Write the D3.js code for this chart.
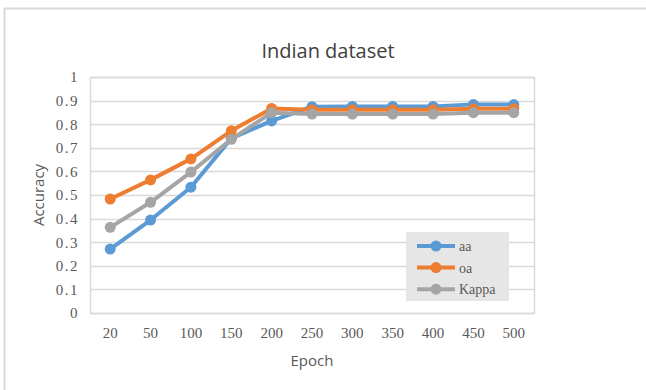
<!DOCTYPE html>
<html>
<head>
<meta charset="utf-8">
<script src="https://cdn.jsdelivr.net/npm/d3@7"></script>
<style>
    body { margin: 0; background: #fff; }
    .tick-label { font-family: "Liberation Serif", "DejaVu Serif", serif; font-size: 15px; fill: #595959; }
    .axis-title { font-family: "Open Sans", sans-serif; font-size: 15px; fill: #595959; }
</style>
</head>
<body>
<svg id="chart" width="646" height="390"></svg>
<script>
// data
const epochs = ["20", "50", "100", "150", "200", "250", "300", "350", "400", "450", "500"];
const aa = [0.271, 0.394, 0.533, 0.740, 0.814, 0.874, 0.875, 0.875, 0.875, 0.884, 0.883];
const oa = [0.483, 0.564, 0.653, 0.772, 0.867, 0.861, 0.861, 0.861, 0.861, 0.865, 0.865];
const kappa = [0.363, 0.469, 0.597, 0.736, 0.849, 0.843, 0.843, 0.843, 0.843, 0.849, 0.849];
const yTicks = [0, 0.1, 0.2, 0.3, 0.4, 0.5, 0.6, 0.7, 0.8, 0.9, 1];

const series = [
    { name: "aa", values: aa, color: "#5B9BD5" },
    { name: "oa", values: oa, color: "#ED7D31" },
    { name: "Kappa", values: kappa, color: "#A5A5A5" },
];

const svg = d3.select("#chart");
const margin = { left: 90, right: 112, top: 77, bottom: 77 };
const width = 646 - margin.left - margin.right;
const height = 390 - margin.top - margin.bottom;

// outer chart border (runs off the right/bottom edge)
svg.append("rect")
    .attr("x", 4.5).attr("y", 8.5)
    .attr("width", 660).attr("height", 400)
    .attr("fill", "#fff")
    .attr("stroke", "#d9d9d9")
    .attr("stroke-width", 2);

const x = d3.scaleBand().domain(epochs).range([0, width]);
const y = d3.scaleLinear().domain([0, 1]).range([height, 0]);

const g = svg.append("g").attr("transform", `translate(${margin.left},${margin.top})`);

// grid lines
g.selectAll(".grid")
    .data(yTicks)
    .enter()
    .append("line")
    .attr("class", "grid")
    .attr("x1", 0).attr("x2", width)
    .attr("y1", d => Math.round(y(d)) + 0.5)
    .attr("y2", d => Math.round(y(d)) + 0.5)
    .attr("stroke", "#d9d9d9")
    .attr("stroke-width", 1.5);

// plot area border
g.append("rect")
    .attr("x", 0.5).attr("y", 0.5)
    .attr("width", width).attr("height", height)
    .attr("fill", "none")
    .attr("stroke", "#d9d9d9")
    .attr("stroke-width", 1.5);

// y axis labels
const yAxis = d3.axisLeft(y)
    .tickValues(yTicks)
    .tickSize(0)
    .tickPadding(11)
    .tickFormat(d => (d === 0 || d === 1) ? String(d) : d.toFixed(1));
g.append("g").call(yAxis)
    .call(a => a.select(".domain").remove())
    .selectAll("text")
    .attr("class", "tick-label")
    .attr("fill", null)
    .attr("font-size", null)
    .attr("font-family", null)
    .style("letter-spacing", "1.5px");

// x axis labels
const xAxis = d3.axisBottom(x).tickSize(0).tickPadding(14);
g.append("g").attr("transform", `translate(0,${height})`).call(xAxis)
    .call(a => a.select(".domain").remove())
    .selectAll("text")
    .attr("class", "tick-label")
    .attr("fill", null)
    .attr("font-size", null)
    .attr("font-family", null);

const cx = d => x(d) + x.bandwidth() / 2;
const line = d3.line()
    .x((d, i) => cx(epochs[i]))
    .y(d => y(d));

// lines + markers, drawn in series order
series.forEach(s => {
    g.append("path")
        .datum(s.values)
        .attr("fill", "none")
        .attr("stroke", s.color)
        .attr("stroke-width", 4)
        .attr("stroke-linejoin", "round")
        .attr("d", line);

    g.selectAll(".dot-" + s.name)
        .data(s.values)
        .enter()
        .append("circle")
        .attr("class", "dot-" + s.name)
        .attr("cx", (d, i) => cx(epochs[i]))
        .attr("cy", d => y(d))
        .attr("r", 5.5)
        .attr("fill", s.color);
});

// title
svg.append("text")
    .attr("x", 328).attr("y", 58)
    .attr("text-anchor", "middle")
    .style("font-family", "'Open Sans', sans-serif")
    .style("font-size", "20px")
    .style("fill", "#404040")
    .text("Indian dataset");

// axis titles
svg.append("text")
    .attr("class", "axis-title")
    .attr("x", margin.left + width / 2).attr("y", 366)
    .attr("text-anchor", "middle")
    .text("Epoch");

svg.append("text")
    .attr("class", "axis-title")
    .attr("transform", `translate(44,${margin.top + height / 2}) rotate(-90)`)
    .attr("text-anchor", "middle")
    .text("Accuracy");

// legend
const legend = svg.append("g").attr("transform", "translate(406,232)");
legend.append("rect")
    .attr("width", 103).attr("height", 69)
    .attr("fill", "#e7e6e6");

const item = legend.selectAll(".item")
    .data(series)
    .enter()
    .append("g")
    .attr("class", "item")
    .attr("transform", (d, i) => `translate(0,${14 + i * 21.6})`);

item.append("line")
    .attr("x1", 11).attr("x2", 49)
    .attr("stroke", d => d.color)
    .attr("stroke-width", 4);
item.append("circle")
    .attr("cx", 30).attr("r", 5.5)
    .attr("fill", d => d.color);
item.append("text")
    .attr("class", "tick-label")
    .attr("x", 53).attr("y", 5)
    .style("font-size", "14px")
    .text(d => d.name);
</script>
</body>
</html>
